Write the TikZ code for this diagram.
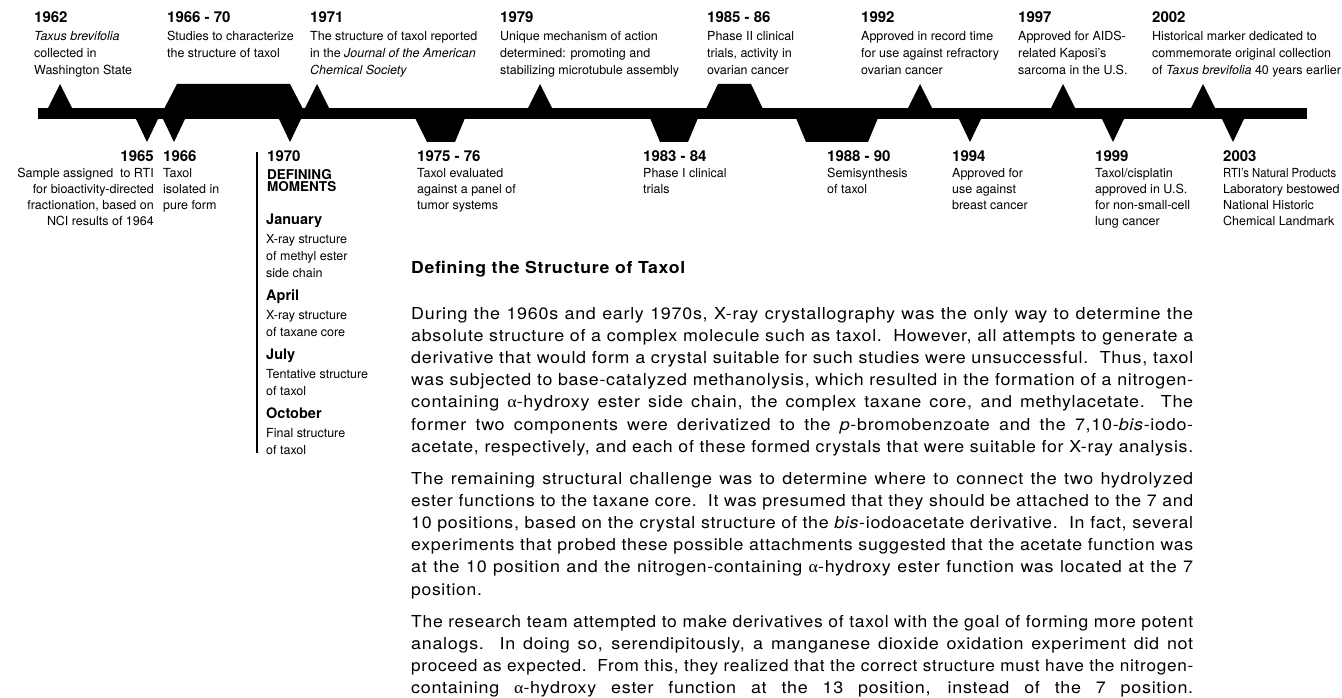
\documentclass[tikz,border=0pt]{standalone}
\usepackage{fontspec}
\usepackage{graphicx}
\setmainfont{TeX Gyre Heros}
\newfontfamily\bodyfont[LetterSpace=4]{TeX Gyre Heros}
\newfontfamily\grkfont{Liberation Serif}
\newcommand\alf{{\grkfont α}}
\newsavebox\jlbox
\newcommand\jline[1]{\sbox\jlbox{#1}\ifdim\wd\jlbox<720pt\relax\sbox\jlbox{\hbox to 720pt{#1}}\fi\resizebox{782pt}{\height}{\usebox\jlbox}}
\newcommand\yrfont{\fontsize{15pt}{15pt}\selectfont\bfseries}
\newcommand\mofont{\fontsize{14.5pt}{14.5pt}\selectfont\bfseries}
\newcommand\tlabL[5]{\vtop{\baselineskip=#2\lineskiplimit=-100pt\lineskip=0pt\tabskip=0pt
  \halign{##\hfil\cr{#1#4}\cr\noalign{\vskip#3}#5\crcr}}}
\newcommand\tlabR[5]{\vtop{\baselineskip=#2\lineskiplimit=-100pt\lineskip=0pt\tabskip=0pt
  \halign{\hfil##\cr{#1#4}\cr\noalign{\vskip#3}#5\crcr}}}
\tikzset{
  lbl/.style={inner sep=0pt, anchor=base west, font=\fontsize{12.5pt}{17pt}\selectfont},
  lblr/.style={lbl, anchor=base east},
  body/.style={inner sep=0pt, anchor=base west, font=\bodyfont\fontsize{16.5pt}{22.2pt}\selectfont},
  blk/.style={fill=black}
}
\begin{document}
\begin{tikzpicture}[x=1pt,y=-1pt]
\fill[white] (0,0) rectangle (1342,698);
\useasboundingbox (0,0) rectangle (1342,698);
% ---- timeline bar
\fill[blk] (38,108.3) rectangle (1307,118.6);
\foreach \a in {60,317,540,920,1063,1203}
  \fill[blk] (\a-12.5,109) -- (\a,84) -- (\a+12.5,109) -- cycle;
\foreach \a in {147,174,290,970,1113,1233}
  \fill[blk] (\a-11.5,118) -- (\a,142) -- (\a+11.5,118) -- cycle;
\fill[blk] (164,109) -- (177,84) -- (290,84) -- (303,109) -- cycle;
\fill[blk] (706,109) -- (718,84) -- (751,84) -- (763,109) -- cycle;
\fill[blk] (415,118) -- (427,142) -- (455,142) -- (465,118) -- cycle;
\fill[blk] (650,118) -- (660,142) -- (688,142) -- (698,118) -- cycle;
\fill[blk] (796,118) -- (806,142) -- (868,142) -- (878,118) -- cycle;
% ---- top labels
\node[lbl] (t1962) at (34,23) {\tlabL{\yrfont}{17pt}{1pt}{1962}{\textit{Taxus brevifolia}\cr collected in\cr Washington State}};
\node[lbl] (t1966) at (167,23) {\tlabL{\yrfont}{17pt}{1pt}{1966 - 70}{Studies to characterize\cr the structure of taxol}};
\node[lbl] (t1971) at (310,23) {\tlabL{\yrfont}{17pt}{1pt}{1971}{The structure of taxol reported\cr in the \textit{Journal of the American}\cr \textit{Chemical Society}}};
\node[lbl] (t1979) at (500,23) {\tlabL{\yrfont}{17pt}{1pt}{1979}{Unique mechanism of action\cr determined: promoting and\cr stabilizing microtubule assembly}};
\node[lbl] (t1985) at (707,23) {\tlabL{\yrfont}{17pt}{1pt}{1985 - 86}{Phase II clinical\cr trials, activity in\cr ovarian cancer}};
\node[lbl] (t1992) at (861,23) {\tlabL{\yrfont}{17pt}{1pt}{1992}{Approved in record time\cr for use against refractory\cr ovarian cancer}};
\node[lbl] (t1997) at (1018,23) {\tlabL{\yrfont}{17pt}{1pt}{1997}{Approved for AIDS-\cr related Kaposi's\cr sarcoma in the U.S.}};
\node[lbl] (t2002) at (1152,23) {\tlabL{\yrfont}{17pt}{1pt}{2002}{Historical marker dedicated to\cr commemorate original collection\cr of \textit{Taxus brevifolia} 40 years earlier}};
% ---- bottom labels
\node[lblr] (b1965) at (154,162) {\tlabR{\yrfont}{16pt}{0pt}{1965}{Sample assigned\ \ to RTI\cr for bioactivity-directed\cr fractionation, based on\cr NCI results of 1964}};
\node[lbl] (b1966) at (163,162) {\tlabL{\yrfont}{16pt}{0pt}{1966}{Taxol\cr isolated in\cr pure form}};
\node[lbl, font=\fontsize{13.5pt}{12pt}\selectfont\bfseries] (b1970) at (267,162) {\tlabL{\yrfont}{12pt}{5.5pt}{1970}{DEFINING\cr MOMENTS}};
\node[lbl] (b1975) at (417,162) {\tlabL{\yrfont}{16pt}{0pt}{1975 - 76}{Taxol evaluated\cr against a panel of\cr tumor systems}};
\node[lbl] (b1983) at (643,162) {\tlabL{\yrfont}{16pt}{0pt}{1983 - 84}{Phase I clinical\cr trials}};
\node[lbl] (b1988) at (827,162) {\tlabL{\yrfont}{16pt}{0pt}{1988 - 90}{Semisynthesis\cr of taxol}};
\node[lbl] (b1994) at (952,162) {\tlabL{\yrfont}{16pt}{0pt}{1994}{Approved for\cr use against\cr breast cancer}};
\node[lbl] (b1999) at (1095,162) {\tlabL{\yrfont}{16pt}{0pt}{1999}{Taxol/cisplatin\cr approved in U.S.\cr for non-small-cell\cr lung cancer}};
\node[lbl] (b2003) at (1223,162) {\tlabL{\yrfont}{16pt}{0pt}{2003}{\resizebox{113pt}{\height}{RTI's Natural Products}\cr Laboratory bestowed\cr National Historic\cr Chemical Landmark}};
% ---- defining moments column
\coordinate (dmtop) at (257,152);
\coordinate (dmbot) at (257,453);
\draw[line width=1.3pt] (dmtop) -- (dmbot);
\node[lbl] (mjan) at (266,224) {\tlabL{\mofont}{17pt}{2pt}{January}{X-ray structure\cr of methyl ester\cr side chain}};
\node[lbl] (mapr) at (266,300) {\tlabL{\mofont}{17pt}{2pt}{April}{X-ray structure\cr of taxane core}};
\node[lbl] (mjul) at (266,359) {\tlabL{\mofont}{17pt}{2pt}{July}{Tentative structure\cr of taxol}};
\node[lbl] (moct) at (266,418) {\tlabL{\mofont}{17pt}{2pt}{October}{Final structure\cr of taxol}};
% ---- main text
\node[body, font=\bodyfont\fontsize{16.5pt}{20pt}\selectfont\bfseries] (head) at (411,273) {\resizebox{274pt}{\height}{Defining the Structure of Taxol}};
\node[body] (p1) at (411,319) {\vtop{\baselineskip=22.2pt\lineskiplimit=-100pt\lineskip=0pt
\hbox{\jline{During the 1960s and early 1970s, X-ray crystallography was the only way to determine the}}
\hbox{\jline{absolute structure of a complex molecule such as taxol.\ \ However, all attempts to generate a}}
\hbox{\jline{derivative that would form a crystal suitable for such studies were unsuccessful.\ \ Thus, taxol}}
\hbox{\jline{was subjected to base-catalyzed methanolysis, which resulted in the formation of a nitrogen-}}
\hbox{\jline{containing \alf-hydroxy ester side chain, the complex taxane core, and methylacetate.\ \ The}}
\hbox{\jline{former two components were derivatized to the \textit{p}-bromobenzoate and the 7,10-\textit{bis}-iodo-}}
\hbox{\jline{acetate, respectively, and each of these formed crystals that were suitable for X-ray analysis.}}}};
\node[body] (p2) at (411,484) {\vtop{\baselineskip=22.2pt\lineskiplimit=-100pt\lineskip=0pt
\hbox{\jline{The remaining structural challenge was to determine where to connect the two hydrolyzed}}
\hbox{\jline{ester functions to the taxane core.\ \ It was presumed that they should be attached to the 7 and}}
\hbox{\jline{10 positions, based on the crystal structure of the \textit{bis}-iodoacetate derivative.\ \ In fact, several}}
\hbox{\jline{experiments that probed these possible attachments suggested that the acetate function was}}
\hbox{\jline{at the 10 position and the nitrogen-containing \alf-hydroxy ester function was located at the 7}}
\hbox{\scalebox{1.06}[1]{position.}}}};
\node[body] (p3) at (411,627) {\vtop{\baselineskip=22.2pt\lineskiplimit=-100pt\lineskip=0pt
\hbox{\jline{The research team attempted to make derivatives of taxol with the goal of forming more potent}}
\hbox{\jline{analogs.\ \ In doing so, serendipitously, a manganese dioxide oxidation experiment did not}}
\hbox{\jline{proceed as expected.\ \ From this, they realized that the correct structure must have the nitrogen-}}
\hbox{\jline{containing \alf-hydroxy ester function at the 13 position, instead of the 7 position.}}}};
\end{tikzpicture}
\end{document}
